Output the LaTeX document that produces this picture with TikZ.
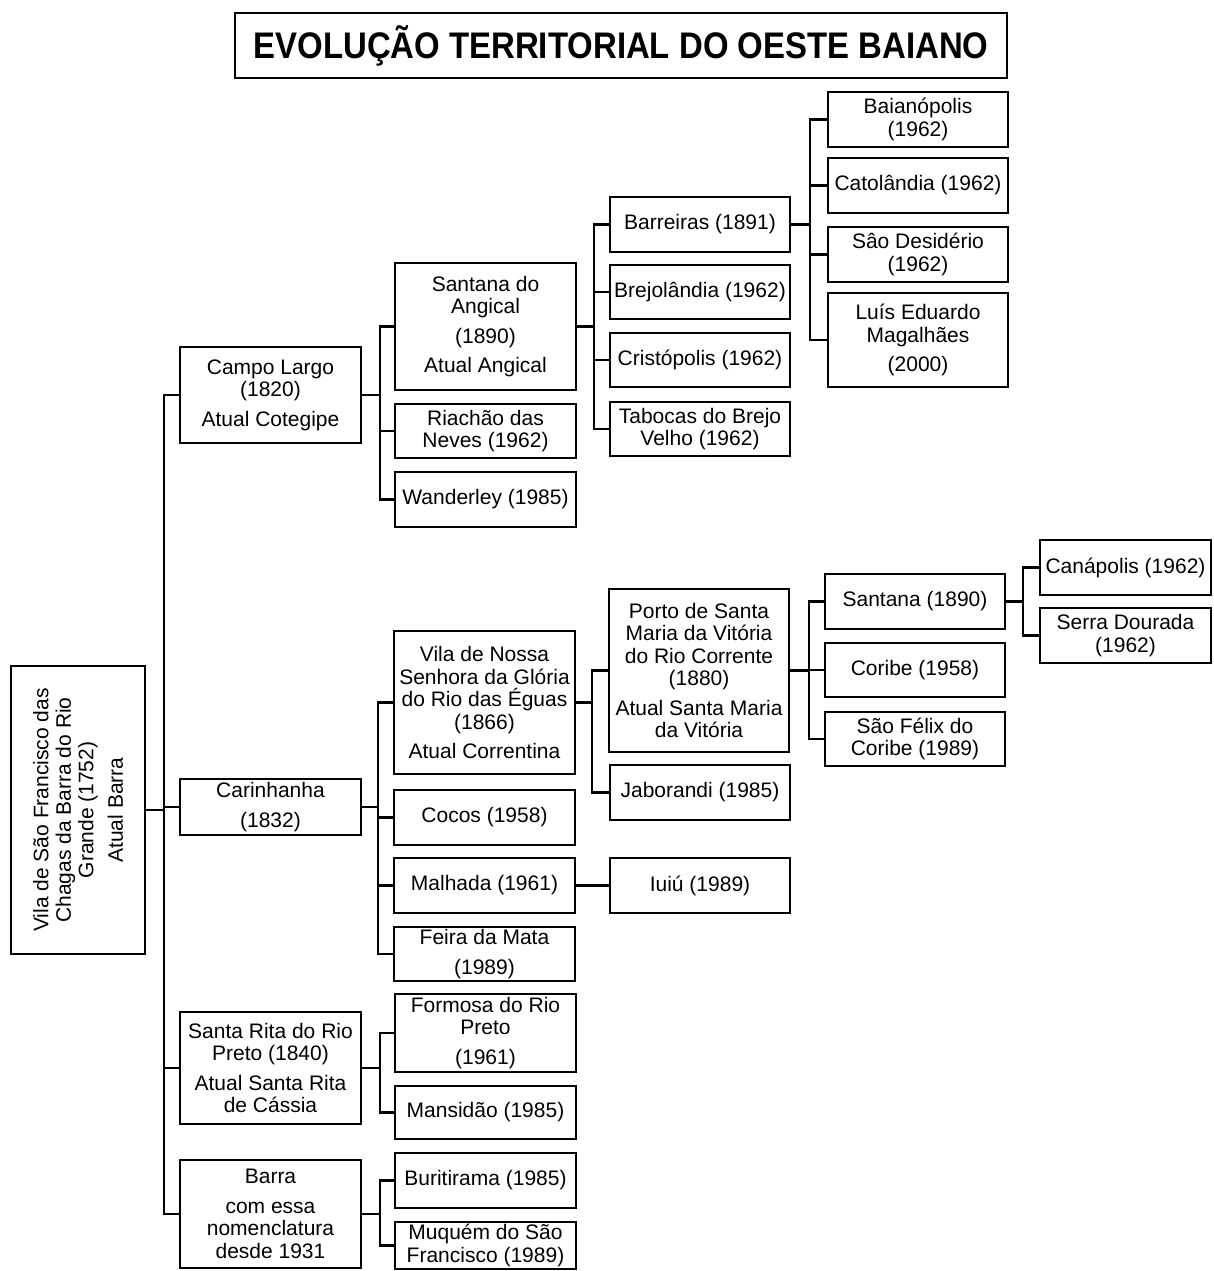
\documentclass[tikz,border=0pt]{standalone}
\usepackage{fontspec}
\setmainfont{Liberation Sans}
\usepackage{graphicx}
\begin{document}
\begin{tikzpicture}[x=1pt,y=-1pt,
  bx/.style={draw, line width=2.2pt, inner sep=0pt, align=center, anchor=center,
    font=\fontsize{21}{22.5}\selectfont},
  ln/.style={line width=2.2pt},
]
\useasboundingbox (0,0) rectangle (1213,1271);
% title
\node[draw, line width=1.5pt, inner sep=0pt, minimum width=772pt, minimum height=65pt,
  font=\bfseries\fontsize{37}{40}\selectfont] (title) at (621,45.5)
  {\scalebox{0.89}[1]{EVOLUÇÃO TERRITORIAL DO OESTE BAIANO}};
% root
\node[bx, minimum width=134pt, minimum height=288pt] (root) at (78,810) {};
\node[rotate=90, align=center, font=\fontsize{21}{22.5}\selectfont, inner sep=0pt] (roott) at (root.center)
  {Vila de São Francisco das\\Chagas da Barra do Rio\\Grande (1752)\\[7pt]Atual Barra};
% level 1
\node[bx, minimum width=181pt, minimum height=96pt] (campo) at (270.5,395) {Campo Largo\\(1820)\\[7pt]Atual Cotegipe};
\node[bx, minimum width=181pt, minimum height=56pt] (carin) at (270.5,807) {Carinhanha\\[7pt](1832)};
\node[bx, minimum width=181pt, minimum height=112pt] (srita) at (270.5,1068) {Santa Rita do Rio\\Preto (1840)\\[7pt]Atual Santa Rita\\de Cássia};
\node[bx, minimum width=181pt, minimum height=108pt] (barra) at (270.5,1214) {Barra\\[7pt]com essa\\nomenclatura\\desde 1931};
% campo largo children
\node[bx, minimum width=181pt, minimum height=127pt] (sangical) at (485.5,326.5) {Santana do\\Angical\\[7pt](1890)\\[7pt]Atual Angical};
\node[bx, minimum width=181pt, minimum height=54pt] (riachao) at (485.5,431) {Riachão das\\Neves (1962)};
\node[bx, minimum width=181pt, minimum height=55pt] (wander) at (485.5,499.5) {Wanderley (1985)};
% santana do angical children
\node[bx, minimum width=180pt, minimum height=55pt] (barreiras) at (700,224.5) {Barreiras (1891)};
\node[bx, minimum width=180pt, minimum height=54pt] (brejo) at (700,292) {Brejolândia (1962)};
\node[bx, minimum width=180pt, minimum height=54pt] (cristo) at (700,360) {Cristópolis (1962)};
\node[bx, minimum width=180pt, minimum height=54pt] (tabocas) at (700,429) {Tabocas do Brejo\\Velho (1962)};
% barreiras children
\node[bx, minimum width=180pt, minimum height=55pt] (baian) at (918,119.5) {Baianópolis\\(1962)};
\node[bx, minimum width=180pt, minimum height=55pt] (catol) at (918,185.5) {Catolândia (1962)};
\node[bx, minimum width=180pt, minimum height=55pt] (sdesid) at (918,254.5) {Sâo Desidério\\(1962)};
\node[bx, minimum width=180pt, minimum height=94pt] (luis) at (918,340) {Luís Eduardo\\Magalhães\\[7pt](2000)};
% carinhanha children
\node[bx, minimum width=181pt, minimum height=143pt] (vila) at (484.5,702.5) {Vila de Nossa\\Senhora da Glória\\do Rio das Éguas\\(1866)\\[7pt]Atual Correntina};
\node[bx, minimum width=181pt, minimum height=55pt] (cocos) at (484.5,817.5) {Cocos (1958)};
\node[bx, minimum width=181pt, minimum height=55pt] (malhada) at (484.5,885.5) {Malhada (1961)};
\node[bx, minimum width=181pt, minimum height=54pt] (feira) at (484.5,954) {Feira da Mata\\[7pt](1989)};
% vila children
\node[bx, minimum width=180pt, minimum height=163pt] (porto) at (699,670.5) {Porto de Santa\\Maria da Vitória\\do Rio Corrente\\(1880)\\[7pt]Atual Santa Maria\\da Vitória};
\node[bx, minimum width=180pt, minimum height=55pt] (jabor) at (700,792.5) {Jaborandi (1985)};
\node[bx, minimum width=180pt, minimum height=55pt] (iuiu) at (700,885.5) {Iuiú (1989)};
% porto children
\node[bx, minimum width=180pt, minimum height=55pt] (santana) at (915,601.5) {Santana (1890)};
\node[bx, minimum width=180pt, minimum height=54pt] (coribe) at (915,670) {Coribe (1958)};
\node[bx, minimum width=180pt, minimum height=54pt] (sfelix) at (915,739) {São Félix do\\Coribe (1989)};
% santana children
\node[bx, minimum width=171pt, minimum height=55pt] (canap) at (1125.5,567.5) {Canápolis (1962)};
\node[bx, minimum width=171pt, minimum height=55pt] (serra) at (1125.5,635.5) {Serra Dourada\\(1962)};
% santa rita children
\node[bx, minimum width=181pt, minimum height=78pt] (formosa) at (485.5,1033) {Formosa do Rio\\Preto\\[7pt](1961)};
\node[bx, minimum width=181pt, minimum height=53pt] (mansid) at (485.5,1112.5) {Mansidão (1985)};
% barra children
\node[bx, minimum width=181pt, minimum height=55pt] (buriti) at (485.5,1180.5) {Buritirama (1985)};
\node[bx, minimum width=181pt, minimum height=47pt] (muquem) at (485.5,1245.5) {Muquém do São\\Francisco (1989)};
% connectors
\foreach \c in {campo,carin,srita,barra}
  \draw[ln] (root.east) -- ++(18,0) |- (\c.west);
\foreach \c in {sangical,riachao,wander}
  \draw[ln] (campo.east) -- ++(18,0) |- (\c.west);
\foreach \c in {barreiras,brejo,cristo,tabocas}
  \draw[ln] (sangical.east) -- ++(17,0) |- (\c.west);
\foreach \c in {baian,catol,sdesid,luis}
  \draw[ln] (barreiras.east) -- ++(19,0) |- (\c.west);
\foreach \c in {vila,cocos,malhada,feira}
  \draw[ln] (carin.east) -- ++(16,0) |- (\c.west);
\foreach \c in {porto,jabor}
  \draw[ln] (vila.east) -- ++(16,0) |- (\c.west);
\draw[ln] (malhada.east) -- (iuiu.west);
\foreach \c in {santana,coribe,sfelix}
  \draw[ln] (porto.east) -- ++(19,0) |- (\c.west);
\foreach \c in {canap,serra}
  \draw[ln] (santana.east) -- ++(17,0) |- (\c.west);
\foreach \c in {formosa,mansid}
  \draw[ln] (srita.east) -- ++(18,0) |- (\c.west);
\foreach \c in {buriti,muquem}
  \draw[ln] (barra.east) -- ++(18,0) |- (\c.west);
\end{tikzpicture}
\end{document}
